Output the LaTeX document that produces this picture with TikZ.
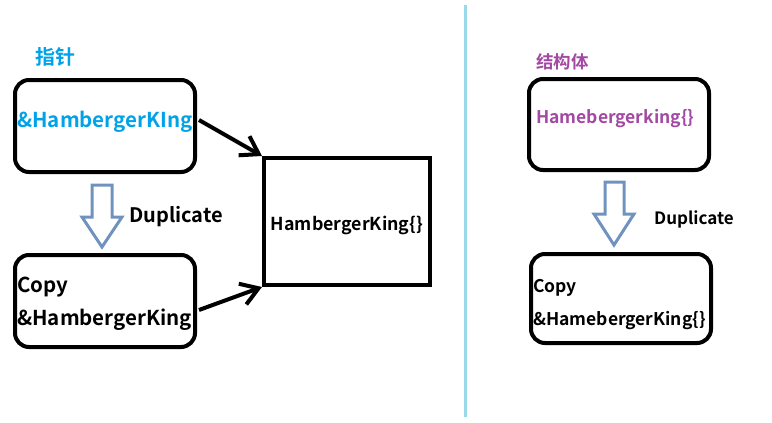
\documentclass[tikz,border=0pt]{standalone}
\usepackage{fontspec}
\setmainfont{Noto Sans CJK SC}[BoldFont={Noto Sans CJK SC Bold}]
\usetikzlibrary{arrows.meta}
\definecolor{ptrblue}{RGB}{0,162,232}
\definecolor{structpurple}{RGB}{163,73,164}
\definecolor{dupgray}{RGB}{112,146,190}
\definecolor{splitblue}{RGB}{153,217,234}
\tikzset{
	box/.style={draw, line width=4pt, rounded corners=14pt, minimum width=180pt, inner sep=0pt},
	lbl/.style={anchor=west, inner sep=0pt, font=\bfseries\fontsize{20.5}{20.5}\selectfont},
	rlbl/.style={anchor=west, inner sep=0pt, font=\bfseries\fontsize{17.5}{17.5}\selectfont},
	duparrow/.style={draw=dupgray, line width=3pt, line join=miter},
	ref/.style={line width=4pt, -{Straight Barb[length=17pt, width=22pt]}}
}

\begin{document}
\begin{tikzpicture}[x=1pt, y=-1pt]
		\useasboundingbox (0,0) rectangle (772,423);
		
		%Punteros
		\node [box, minimum height=92pt] (ptr) at (105,126) {};
		\node [box, minimum height=92pt] (copyptr) at (105,301) {};
		\node [draw, line width=4pt, minimum width=166pt, minimum height=127pt, inner sep=0pt] (obj) at (347,221.5) {};
		\draw [duparrow] (92,185)--(112,185)--(112,217)--(122,217)--(102,247)--(82,217)--(92,217)--cycle;
		
		\coordinate (ptrout) at (199,120);
		\coordinate (copyout) at (199,310);
		\draw [ref] (ptrout)--(obj.north west);
		\draw [ref] (copyout)--(obj.south west);
		
		\node [lbl, text=ptrblue, font=\bfseries\fontsize{20}{20}\selectfont] (ptrtitle) at (35,57) {指针};
		\node [lbl, text=ptrblue] (ptrtxt) at (17,122) {\&HambergerKIng};
		\node [lbl, font=\bfseries\fontsize{20}{20}\selectfont] (dupleft) at (129,217) {Duplicate};
		\node [lbl] (copyleft) at (17,287) {Copy};
		\node [lbl] (copytxt) at (17,320) {\&HambergerKing};
		\node [lbl, anchor=center, font=\bfseries\fontsize{17.8}{17.8}\selectfont] (objtxt) at (347,225) {HambergerKing\{\}};
		
		%Separador
		\draw [splitblue, line width=3pt] (465,5)--(465,417);
		
		%Estructuras
		\node [box, minimum height=91pt] (st) at (619,124.5) {};
		\node [box, minimum height=89pt] (copyst) at (621,298.5) {};
		\draw [duparrow] (605,182)--(624,182)--(624,214)--(634,214)--(614,245)--(594,214)--(605,214)--cycle;
		
		\node [rlbl, text=structpurple] (sttitle) at (536,62) {结构体};
		\node [rlbl, text=structpurple] (sttxt) at (536,119) {Hamebergerking\{\}};
		\node [rlbl, font=\bfseries\fontsize{17}{17}\selectfont] (dupright) at (654,219) {Duplicate};
		\node [rlbl] (copyright) at (533,288) {Copy};
		\node [rlbl] (copysttxt) at (533,321) {\&HamebergerKing\{\}};
	\end{tikzpicture}
\end{document}
